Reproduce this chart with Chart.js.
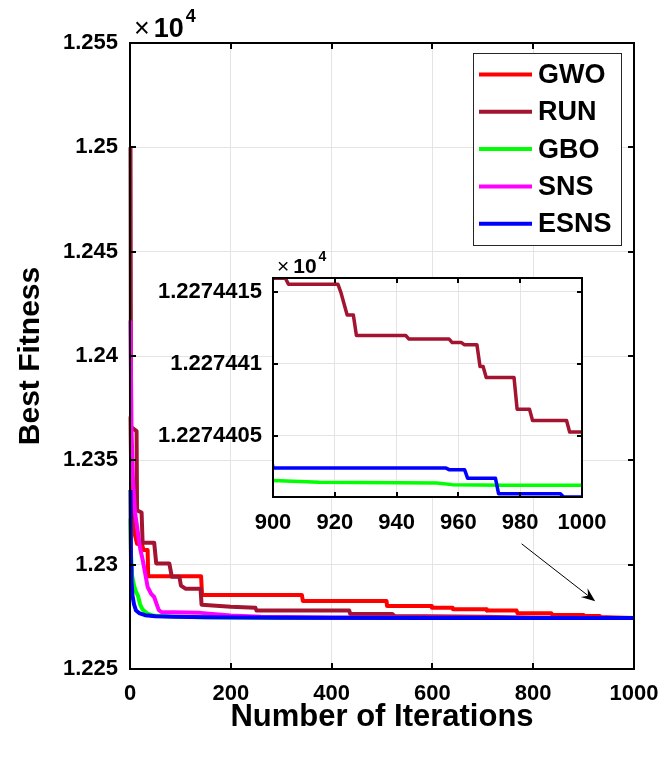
<!DOCTYPE html>
<html>
<head>
<meta charset="utf-8">
<script src="https://cdn.jsdelivr.net/npm/chart.js@4.4.0/dist/chart.umd.min.js"></script>
<style>
  html, body { margin: 0; padding: 0; background: #fff; }
  #wrap { position: relative; width: 666px; height: 757px; }
  #wrap canvas { position: absolute; left: 0; top: 0; }
</style>
</head>
<body>
<div id="wrap">
  <canvas id="main" width="666" height="757"></canvas>
  <canvas id="inset" width="666" height="757"></canvas>
</div>
<script>
// [iteration, best fitness]
var gwoCurve = [[1,12371],[2,12350],[4,12330],[7,12318],[10,12314],[14,12310],[24,12309.5],[27,12307],[35,12307],[36,12294.5],
  [141,12294.5],[143,12285.5],[341,12285.5],[343,12282.6],[509,12282.6],[510,12280.2],[598,12280.2],[599,12279.4],
  [640,12279.4],[641,12278.6],[707,12278.6],[708,12278],[767,12278],[769,12276.7],[836,12276.7],[838,12275.9],
  [899,12275.9],[900,12275.4],[932,12275.4],[934,12274.9],[960,12274.7],[1000,12274.45]];

var runCurve = [[1,12500],[2,12366],[13,12364],[14,12326],[23,12325],[25,12310.5],[48,12310.5],[52,12300.6],[78,12300.6],
  [83,12294.2],[98,12294.2],[101,12290],[104,12289.5],[110,12288.5],[140,12288.5],[142,12280.8],[200,12279.8],
  [249,12279.3],[251,12278],[435,12278],[437,12276.4],[520,12276.4],[525,12275.4],[700,12275.0],[800,12274.6],
  [899,12274.42],[900,12274.41595],[904,12274.41595],[905,12274.41554],[921,12274.41554],[922,12274.41495],
  [924,12274.4134],[926,12274.4134],[927,12274.41197],[943,12274.41197],[944,12274.41172],[957,12274.41172],
  [958,12274.41148],[961,12274.41148],[962,12274.41132],[966,12274.41132],[967,12274.40981],[968,12274.40981],
  [969,12274.40905],[978,12274.40905],[979,12274.40685],[983,12274.40685],[984,12274.40606],[995,12274.40606],
  [996,12274.40526],[1000,12274.40526]];

var gboCurve = [[1,12322],[2,12305],[4,12295],[8,12290],[12,12287],[16,12285],[20,12281],[25,12278.5],[35,12276.5],
  [45,12275.6],[80,12275.1],[150,12274.8],[300,12274.6],[600,12274.45],[850,12274.40192],[900,12274.40188],
  [915,12274.40176],[953,12274.40172],[958,12274.4016],[975,12274.40155],[1000,12274.40155]];

var snsCurve = [[1,12417],[3,12365],[6,12340],[10,12325],[15,12316.6],[20,12308],[25,12302.5],[30,12296],[35,12289.3],
  [42,12286],[48,12284.5],[53,12281],[57,12278.3],[62,12277.3],[140,12276.9],[200,12275.6],[260,12275],
  [400,12274.7],[1000,12274.45]];

var esnsCurve = [[1,12335.8],[2,12300],[3,12292],[5,12285],[8,12281],[12,12278],[18,12276.8],[30,12275.8],[50,12275.3],
  [90,12275.0],[150,12274.8],[300,12274.6],[600,12274.42],[899,12274.404],[900,12274.40275],[956,12274.40275],
  [957,12274.40264],[962,12274.40264],[963,12274.40204],[972,12274.40204],[973,12274.40097],[993,12274.40097],
  [994,12274.40074],[1000,12274.40074]];

var names = ['GWO', 'RUN', 'GBO', 'SNS', 'ESNS'];
var colors = ['#ff0000', '#a2142f', '#00ff00', '#ff00ff', '#0000ff'];

var xTicksMain = [0, 200, 400, 600, 800, 1000];
var yTicksMain = [12250, 12300, 12350, 12400, 12450, 12500, 12550];
var yLabelsMain = ['1.225', '1.23', '1.235', '1.24', '1.245', '1.25', '1.255'];

var xTicksInset = [900, 920, 940, 960, 980, 1000];
var yTicksInset = [12274.405, 12274.41, 12274.415];
var yLabelsInset = ['1.2274405', '1.227441', '1.2274415'];
var insetRange = [12274.40074, 12274.41597];

var arrowFrom = [777, 12310];
var arrowTo = [923, 12282.5];

Chart.defaults.font.family = '"Liberation Sans", Arial, Helvetica, sans-serif';
Chart.defaults.color = '#000';

function makeSets(w, clip) {
  return [gwoCurve, runCurve, gboCurve, snsCurve, esnsCurve].map(function(d, i) {
    return {
      label: names[i], data: d, borderColor: colors[i], backgroundColor: colors[i],
      borderWidth: w, pointRadius: 0, fill: false, tension: 0, order: 5 - i, clip: clip,
      borderJoinStyle: 'round', borderCapStyle: 'butt'
    };
  });
}

function setTicks(vals) {
  return function(s) { s.ticks = vals.map(function(v) { return { value: v }; }); };
}

function fitX(h) {
  return function(s) { s.height = h; s.paddingLeft = 0; s.paddingRight = 0; };
}
function fitY(w) {
  return function(s) { s.width = w; s.paddingTop = 0; s.paddingBottom = 0; };
}

// white plot background, box, inward ticks and the x10^4 mark
var framePlugin = {
  id: 'frame',
  beforeDraw: function(chart, args, o) {
    if (!o.white) return;
    var a = chart.chartArea, ctx = chart.ctx;
    ctx.save();
    ctx.fillStyle = '#fff';
    ctx.fillRect(a.left, a.top, a.right - a.left, a.bottom - a.top);
    ctx.restore();
  },
  afterDraw: function(chart, args, o) {
    var a = chart.chartArea, ctx = chart.ctx, t = o.tick;
    var sx = chart.scales.x, sy = chart.scales.y;
    ctx.save();
    ctx.strokeStyle = '#000';
    ctx.lineWidth = 2;
    ctx.beginPath();
    sx.ticks.forEach(function(tk) {
      var p = Math.round(sx.getPixelForValue(tk.value));
      ctx.moveTo(p, a.bottom); ctx.lineTo(p, a.bottom - t);
      ctx.moveTo(p, a.top); ctx.lineTo(p, a.top + t);
    });
    sy.ticks.forEach(function(tk) {
      var p = Math.round(sy.getPixelForValue(tk.value));
      ctx.moveTo(a.left, p); ctx.lineTo(a.left + t, p);
      ctx.moveTo(a.right, p); ctx.lineTo(a.right - t, p);
    });
    ctx.stroke();
    ctx.strokeRect(a.left, a.top, a.right - a.left, a.bottom - a.top);

    // x10^4
    var s = o.exp, fam = Chart.defaults.font.family;
    var x = a.left + 4, base = a.top - o.expGap;
    ctx.fillStyle = '#000';
    ctx.textBaseline = 'alphabetic';
    ctx.textAlign = 'left';
    ctx.font = 'normal ' + s + 'px ' + fam;
    ctx.fillText('\u00d7', x, base);
    x += ctx.measureText('\u00d7').width + 4;
    ctx.font = 'bold ' + s + 'px ' + fam;
    ctx.fillText('10', x, base);
    x += ctx.measureText('10').width + 2;
    ctx.font = 'bold ' + Math.round(s * 0.68) + 'px ' + fam;
    ctx.fillText('4', x, base - s * 0.55);
    ctx.restore();
  }
};

var legendPlugin = {
  id: 'boxLegend',
  afterDraw: function(chart) {
    var a = chart.chartArea, ctx = chart.ctx;
    var bx = a.right - 161, by = a.top + 10, bw = 148, bh = 192;
    ctx.save();
    ctx.fillStyle = '#fff';
    ctx.fillRect(bx, by, bw, bh);
    ctx.strokeStyle = '#262626';
    ctx.lineWidth = 1;
    ctx.strokeRect(bx + 0.5, by + 0.5, bw, bh);
    ctx.font = 'bold 27px ' + Chart.defaults.font.family;
    ctx.textBaseline = 'middle';
    ctx.textAlign = 'left';
    chart.data.datasets.forEach(function(ds, i) {
      var y = by + 21.5 + i * 37.3;
      ctx.strokeStyle = ds.borderColor;
      ctx.lineWidth = 4;
      ctx.beginPath();
      ctx.moveTo(bx + 6, y); ctx.lineTo(bx + 59, y);
      ctx.stroke();
      ctx.fillStyle = '#000';
      ctx.fillText(ds.label, bx + 65, y + 1);
    });
    ctx.restore();
  }
};

var arrowPlugin = {
  id: 'arrow',
  afterDatasetsDraw: function(chart) {
    var sx = chart.scales.x, sy = chart.scales.y, ctx = chart.ctx;
    var x0 = sx.getPixelForValue(arrowFrom[0]), y0 = sy.getPixelForValue(arrowFrom[1]);
    var x1 = sx.getPixelForValue(arrowTo[0]), y1 = sy.getPixelForValue(arrowTo[1]);
    var ang = Math.atan2(y1 - y0, x1 - x0), L = 14, W = 5.5;
    var c = Math.cos(ang), s = Math.sin(ang);
    ctx.save();
    ctx.strokeStyle = '#000';
    ctx.fillStyle = '#000';
    ctx.lineWidth = 1;
    ctx.beginPath();
    ctx.moveTo(x0, y0);
    ctx.lineTo(x1 - c * 8, y1 - s * 8);
    ctx.stroke();
    ctx.beginPath();
    ctx.moveTo(x1, y1);
    ctx.lineTo(x1 - c * L - s * W, y1 - s * L + c * W);
    ctx.lineTo(x1 - c * 9, y1 - s * 9);
    ctx.lineTo(x1 - c * L + s * W, y1 - s * L - c * W);
    ctx.closePath();
    ctx.fill();
    ctx.restore();
  }
};

var tickFont = { size: 22, weight: 'bold' };
var gridStyle = { color: '#e4e4e4', lineWidth: 1, drawTicks: false };
var plainLabel = function(v) { return String(v); };

new Chart(document.getElementById('main'), {
  type: 'line',
  data: { datasets: makeSets(4, 2) },
  options: {
    responsive: false,
    animation: false,
    events: [],
    layout: { padding: { left: 0, top: 43, right: 32, bottom: 0 } },
    plugins: {
      legend: { display: false },
      tooltip: { enabled: false },
      frame: { tick: 6, white: false, exp: 27, expGap: 6 }
    },
    scales: {
      x: {
        type: 'linear', min: 0, max: 1000,
        afterBuildTicks: setTicks(xTicksMain),
        afterFit: fitX(88),
        grid: gridStyle,
        border: { display: false },
        ticks: { padding: 12, font: tickFont, autoSkip: false, maxRotation: 0, callback: plainLabel },
        title: { display: true, text: 'Number of Iterations', font: { size: 31, weight: 'bold' }, padding: { top: 0, bottom: 21 } }
      },
      y: {
        type: 'linear', min: 12250, max: 12550,
        afterBuildTicks: setTicks(yTicksMain),
        afterFit: fitY(130),
        grid: gridStyle,
        border: { display: false },
        ticks: { padding: 12, font: tickFont, autoSkip: false,
          callback: function(v, i) { return yLabelsMain[i]; } },
        title: { display: true, text: 'Best Fitness', font: { size: 30, weight: 'bold' }, padding: { top: 13, bottom: 0 } }
      }
    }
  },
  plugins: [framePlugin, legendPlugin, arrowPlugin]
});

new Chart(document.getElementById('inset'), {
  type: 'line',
  data: { datasets: makeSets(3.5, 0) },
  options: {
    responsive: false,
    animation: false,
    events: [],
    layout: { padding: { left: 150, top: 278, right: 84, bottom: 215 } },
    plugins: {
      legend: { display: false },
      tooltip: { enabled: false },
      frame: { tick: 5, white: true, exp: 21, expGap: 5 }
    },
    scales: {
      x: {
        type: 'linear', min: 900, max: 1000,
        afterBuildTicks: setTicks(xTicksInset),
        afterFit: fitX(45),
        grid: gridStyle,
        border: { display: false },
        ticks: { padding: 13, font: tickFont, autoSkip: false, maxRotation: 0, callback: plainLabel }
      },
      y: {
        type: 'linear', min: insetRange[0], max: insetRange[1],
        afterBuildTicks: setTicks(yTicksInset),
        afterFit: fitY(123),
        grid: gridStyle,
        border: { display: false },
        ticks: { padding: 11, font: tickFont, autoSkip: false,
          callback: function(v, i) { return yLabelsInset[i]; } }
      }
    }
  },
  plugins: [framePlugin]
});
</script>
</body>
</html>
